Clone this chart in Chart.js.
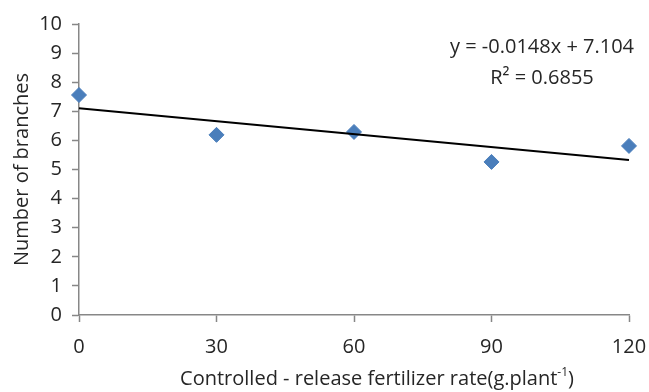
<!DOCTYPE html>
<html>
<head>
<meta charset="utf-8">
<script src="https://cdn.jsdelivr.net/npm/chart.js@4/dist/chart.umd.min.js"></script>
<style>
  html, body { margin: 0; padding: 0; background: #fff; }
  #wrap { width: 649px; height: 392px; }
</style>
</head>
<body>
<div id="wrap"><canvas id="chart" width="649" height="392"></canvas></div>
<script>
// values
const rates = [0, 30, 60, 90, 120];
const branches = [7.56, 6.19, 6.29, 5.26, 5.81];
const xTicks = [0, 30, 60, 90, 120];
const trendSlope = -0.0148;
const trendIntercept = 7.104;
const equationLines = ["y = -0.0148x + 7.104", "R\u00b2 = 0.6855"];
const xTitle = "Controlled - release fertilizer rate(g.plant";
const xTitleSup = "-1";
const yTitle = "Number of branches";

const FONT = "'Open Sans', 'DejaVu Sans', sans-serif";
const TEXT = "#262626";
const AXIS = "#878787";

const points = rates.map((x, i) => ({ x, y: branches[i] }));
const trend = [rates[0], rates[rates.length - 1]].map((x) => ({
  x,
  y: trendIntercept + trendSlope * x,
}));

// equation box and x title (the title sits off-centre and has a superscript)
const extraText = {
  id: "extraText",
  afterDraw(chart) {
    const ctx = chart.ctx;
    ctx.save();
    ctx.fillStyle = TEXT;
    ctx.font = "20px " + FONT;
    ctx.textAlign = "center";
    ctx.textBaseline = "middle";
    ctx.fillText(equationLines[0], 542, 47);
    ctx.fillText(equationLines[1], 542, 78);

    ctx.textAlign = "left";
    ctx.textBaseline = "alphabetic";
    const mainW = ctx.measureText(xTitle).width;
    ctx.font = "12px " + FONT;
    const supW = ctx.measureText(xTitleSup).width;
    ctx.font = "20px " + FONT;
    const closeW = ctx.measureText(")").width;
    const total = mainW + supW + closeW;
    const x0 = 377 - total / 2;
    const base = 385;
    ctx.fillText(xTitle, x0, base);
    ctx.font = "12px " + FONT;
    ctx.fillText(xTitleSup, x0 + mainW, base - 9);
    ctx.font = "20px " + FONT;
    ctx.fillText(")", x0 + mainW + supW, base);
    ctx.restore();
  },
};

new Chart(document.getElementById("chart"), {
  type: "scatter",
  data: {
    datasets: [
      {
        type: "line",
        data: trend,
        borderColor: "#000000",
        borderWidth: 2,
        pointRadius: 0,
        fill: false,
        clip: false,
      },
      {
        data: points,
        pointStyle: "rectRot",
        pointRadius: 7.5,
        backgroundColor: "#4a7ebb",
        borderColor: "#4a7ebb",
        borderWidth: 1,
        clip: false,
      },
    ],
  },
  options: {
    responsive: false,
    animation: false,
    layout: { padding: { top: 24, right: 20, left: 0, bottom: 0 } },
    scales: {
      x: {
        type: "linear",
        min: 0,
        max: 120,
        afterBuildTicks: (axis) => { axis.ticks = xTicks.map((v) => ({ value: v })); },
        afterFit: (axis) => {
          axis.height = 77;
          axis.paddingRight = 0;
          axis.paddingLeft = 0;
        },
        grid: { drawOnChartArea: false, tickLength: 7, tickColor: AXIS, tickWidth: 1.5 },
        border: { color: AXIS, width: 1.5 },
        ticks: { color: TEXT, font: { family: FONT, size: 20 }, padding: 13 },
      },
      y: {
        min: 0,
        max: 10,
        ticks: { stepSize: 1, color: TEXT, font: { family: FONT, size: 20 }, padding: 10 },
        afterFit: (axis) => {
          axis.width = 79;
          axis.paddingTop = 0;
          axis.paddingBottom = 0;
        },
        grid: { drawOnChartArea: false, tickLength: 7, tickColor: AXIS, tickWidth: 1.5 },
        border: { color: AXIS, width: 1.5 },
        title: {
          display: true,
          text: yTitle,
          color: TEXT,
          font: { family: FONT, size: 20 },
          padding: { top: 10, bottom: 0 },
        },
      },
    },
    plugins: {
      legend: { display: false },
      tooltip: { enabled: false },
    },
  },
  plugins: [extraText],
});
</script>
</body>
</html>
